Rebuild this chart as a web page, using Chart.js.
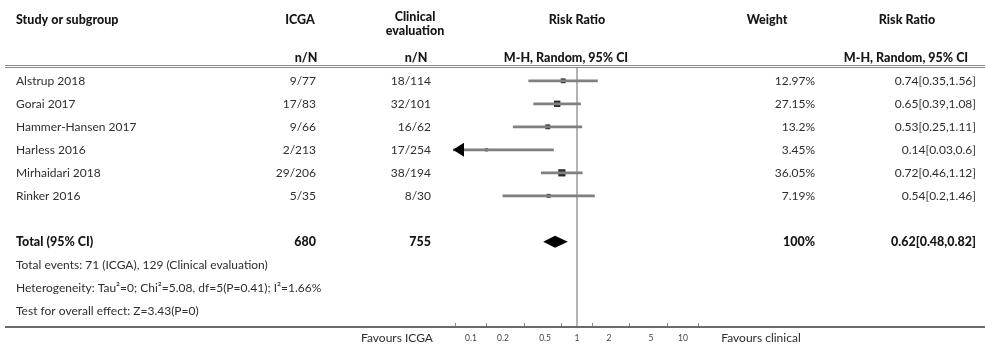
<!DOCTYPE html>
<html>
<head>
<meta charset="utf-8">
<script src="https://cdn.jsdelivr.net/npm/chart.js@4.4.0/dist/chart.umd.min.js"></script>
<style>
	html, body { margin: 0; padding: 0; background: #fff; }
	.forest-wrap { width: 985px; height: 351px; position: relative; }
	.bottom-rule { position: absolute; left: 5px; top: 326px; width: 980px; height: 2px; background: #6a6a6a; }
</style>
</head>
<body>
<div class="forest-wrap">
	<canvas id="forest-plot"></canvas>
	<div class="bottom-rule"></div>
</div>
<script>
const studies = ['Alstrup 2018', 'Gorai 2017', 'Hammer-Hansen 2017', 'Harless 2016', 'Mirhaidari 2018', 'Rinker 2016'];
const icgaEvents = [9, 17, 9, 2, 29, 5];
const icgaTotal = [77, 83, 66, 213, 206, 35];
const clinicalEvents = [18, 32, 16, 17, 38, 8];
const clinicalTotal = [114, 101, 62, 254, 194, 30];
const weights = [12.97, 27.15, 13.2, 3.45, 36.05, 7.19];
const riskRatios = [0.74, 0.65, 0.53, 0.14, 0.72, 0.54];
const ciLower = [0.35, 0.39, 0.25, 0.03, 0.46, 0.2];
const ciUpper = [1.56, 1.08, 1.11, 0.6, 1.12, 1.46];
const totalRatio = [0.62, 0.48, 0.82];
const totalCounts = [680, 755];
const summaryLines = [
	'Total events: 71 (ICGA), 129 (Clinical evaluation)',
	'Heterogeneity: Tau\u00b2=0; Chi\u00b2=5.08, df=5(P=0.41); I\u00b2=1.66%',
	'Test for overall effect: Z=3.43(P=0)',
];
const axisTicks = [0.1, 0.2, 0.5, 1, 2, 5, 10];

// row index on the y scale: studies 0..5, total 7, summary lines 8..10
const totalRow = 7;

const FONT = 'Lato, "Open Sans", sans-serif';
const textColor = '#2e2e2e';
const boldColor = '#161616';

const markerRadius = (w) => 0.9 + 0.7 * Math.sqrt(w || 1);

const tablePlugin = {
	id: 'forestTable',
	beforeDatasetsDraw(chart) {
		const { ctx, chartArea, scales: { x } } = chart;
		const x1 = x.getPixelForValue(1);
		ctx.save();
		ctx.strokeStyle = '#9a9a9a';
		ctx.lineWidth = 1.5;
		ctx.beginPath();
		ctx.moveTo(x1, chartArea.top);
		ctx.lineTo(x1, chartArea.bottom);
		ctx.stroke();
		ctx.restore();
	},
	afterDatasetsDraw(chart) {
		const { ctx, chartArea, scales: { x, y } } = chart;
		ctx.save();

		// arrows for truncated intervals
		ciLower.forEach((lo, i) => {
			if (lo < x.min) {
				const py = y.getPixelForValue(i);
				const tip = chartArea.left;
				ctx.fillStyle = '#000';
				ctx.beginPath();
				ctx.moveTo(tip, py);
				ctx.lineTo(tip + 11, py - 7);
				ctx.lineTo(tip + 11, py + 7);
				ctx.closePath();
				ctx.fill();
			}
		});

		// pooled diamond
		const dy = y.getPixelForValue(totalRow);
		ctx.fillStyle = '#000';
		ctx.beginPath();
		ctx.moveTo(x.getPixelForValue(totalRatio[1]), dy);
		ctx.lineTo(x.getPixelForValue(totalRatio[0]), dy - 6);
		ctx.lineTo(x.getPixelForValue(totalRatio[2]), dy);
		ctx.lineTo(x.getPixelForValue(totalRatio[0]), dy + 6);
		ctx.closePath();
		ctx.fill();
		ctx.restore();
	},
	afterDraw(chart) {
		const { ctx, scales: { y } } = chart;
		const W = chart.width;
		const colName = 16;
		const colIcga = 316;
		const colClinical = 431;
		const colWeight = 815;
		const colRatio = 976;

		const text = (str, px, py, align, bold, size, color) => {
			ctx.font = `${bold ? '900' : 'normal'} ${size || (bold ? 12.5 : 12)}px ${FONT}`;
			ctx.fillStyle = color || (bold ? boldColor : textColor);
			ctx.textAlign = align;
			ctx.textBaseline = 'middle';
			ctx.fillText(str, px, py);
		};

		ctx.save();
		// header
		text('Study or subgroup', colName, 20, 'left', true);
		text('ICGA', 300, 20, 'center', true);
		text('Clinical', 415, 17, 'center', true);
		text('evaluation', 415, 31, 'center', true);
		text('Risk Ratio', 577, 20, 'center', true);
		text('Weight', 767, 20, 'center', true);
		text('Risk Ratio', 907, 20, 'center', true);
		text('n/N', 306, 58, 'center', true);
		text('n/N', 416, 58, 'center', true);
		text('M-H, Random, 95% CI', 566, 58, 'center', true);
		text('M-H, Random, 95% CI', 906, 58, 'center', true);

		// header double rule
		ctx.fillStyle = '#8c8c8c';
		ctx.fillRect(5, 65, W - 5, 1);
		ctx.fillRect(5, 67, W - 5, 1);

		// study rows
		studies.forEach((name, i) => {
			const py = y.getPixelForValue(i);
			text(name, colName, py, 'left');
			text(`${icgaEvents[i]}/${icgaTotal[i]}`, colIcga, py, 'right');
			text(`${clinicalEvents[i]}/${clinicalTotal[i]}`, colClinical, py, 'right');
			text(`${weights[i]}%`, colWeight, py, 'right');
			text(`${riskRatios[i]}[${ciLower[i]},${ciUpper[i]}]`, colRatio, py, 'right');
		});

		// total row
		const ty = y.getPixelForValue(totalRow);
		text('Total (95% CI)', colName, ty, 'left', true);
		text(String(totalCounts[0]), colIcga, ty, 'right', true);
		text(String(totalCounts[1]), colClinical, ty, 'right', true);
		text('100%', colWeight, ty, 'right', true);
		text(`${totalRatio[0]}[${totalRatio[1]},${totalRatio[2]}]`, colRatio, ty, 'right', true);

		summaryLines.forEach((line, k) => {
			text(line, colName, y.getPixelForValue(totalRow + 1 + k), 'left');
		});

		// favours labels
		text('Favours ICGA', 397, 338, 'center');
		text('Favours clinical', 761, 338, 'center');
		ctx.restore();
	},
};

new Chart(document.getElementById('forest-plot'), {
	type: 'bar',
	data: {
		datasets: [
			{
				type: 'bar',
				indexAxis: 'y',
				data: studies.map((s, i) => ({ x: [ciLower[i], ciUpper[i]], y: i })),
				backgroundColor: '#808080',
				barThickness: 2,
				clip: 0,
			},
			{
				type: 'scatter',
				data: riskRatios.map((v, i) => ({ x: v, y: i })),
				pointStyle: 'rect',
				pointRadius: (ctx) => markerRadius(weights[ctx.dataIndex]),
				pointHoverRadius: (ctx) => markerRadius(weights[ctx.dataIndex]),
				backgroundColor: '#2a2a2a',
				borderWidth: 0,
			},
		],
	},
	options: {
		responsive: true,
		maintainAspectRatio: false,
		animation: false,
		events: [],
		layout: {
			padding: { left: 453, right: 284, top: 67, bottom: 1 },
		},
		plugins: {
			legend: { display: false },
			tooltip: { enabled: false },
		},
		scales: {
			x: {
				type: 'logarithmic',
				min: 0.0676,
				max: 14.79,
				afterBuildTicks: (scale) => {
					scale.ticks = axisTicks.map((v) => ({ value: v }));
				},
				afterFit: (scale) => {
					scale.height = 23;
				},
				grid: { display: true, drawOnChartArea: false, drawTicks: true, tickLength: -4, color: '#8a8a8a' },
				border: { display: true, color: '#6a6a6a', width: 2 },
				ticks: {
					autoSkip: false,
					maxRotation: 0,
					padding: 10,
					color: '#444',
					font: { size: 8.5, family: FONT },
					callback: (v) => String(v),
				},
			},
			y: {
				type: 'linear',
				display: false,
				offset: false,
				reverse: true,
				min: -0.6,
				max: 10.7,
			},
		},
	},
	plugins: [tablePlugin],
});
</script>
</body>
</html>
